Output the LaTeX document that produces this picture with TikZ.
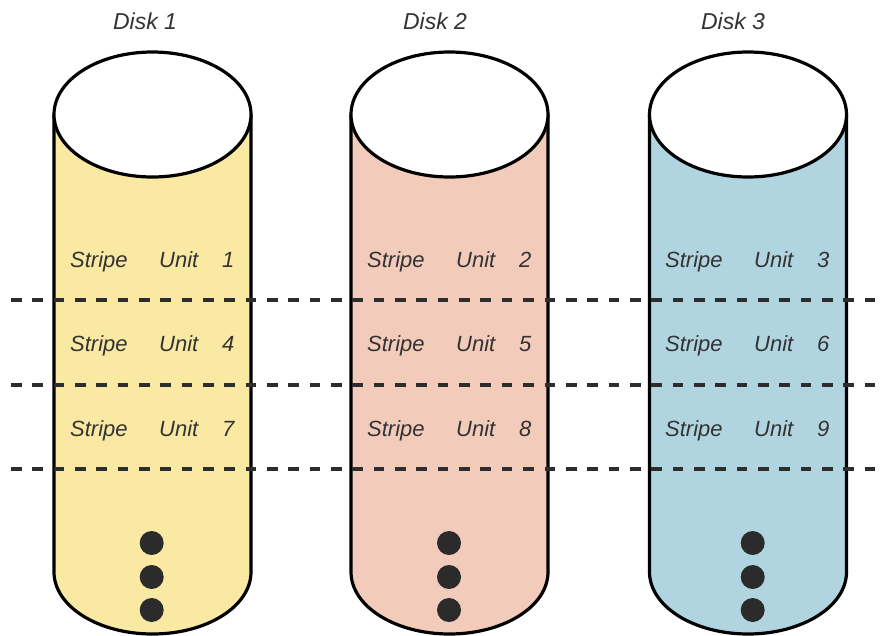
\documentclass[tikz,border=0pt]{standalone}
\usepackage{fontspec}
\setmainfont{Liberation Sans}
\definecolor{diskA}{HTML}{FAE9A2}
\definecolor{diskB}{HTML}{F2CBBB}
\definecolor{diskC}{HTML}{B1D5E0}
\definecolor{inkgray}{HTML}{333333}
\definecolor{dashgray}{HTML}{2D2D2D}
\definecolor{dotgray}{HTML}{2B2B2B}
\tikzset{
  disklabel/.style={font=\fontsize{23}{26}\selectfont\itshape, text=inkgray, inner sep=0pt, anchor=base},
  stripelabel/.style={font=\fontsize{22}{25}\selectfont\itshape, text=inkgray, inner sep=0pt, anchor=base west},
  outline/.style={draw=black, line width=3.2pt},
  sepline/.style={draw=dashgray, line width=4.6pt, dash pattern=on 10.67pt off 10.67pt},
  moredot/.style={circle, fill=dotgray, minimum size=24pt, inner sep=0pt},
}
\newcommand{\diskcyl}[2]{%
  % #1 = centre x, #2 = fill colour
  \fill[#2] (#1-98.5,-114.5) -- (#1-98.5,-572) arc[start angle=180, end angle=360, x radius=98.5, y radius=62] -- (#1+98.5,-114.5) -- cycle;
  \draw[outline] (#1-98.5,-114.5) -- (#1-98.5,-572) arc[start angle=180, end angle=360, x radius=98.5, y radius=62] -- (#1+98.5,-114.5);
  \draw[outline, fill=white] (#1,-114.5) ellipse[x radius=98.5, y radius=62.5];
}
\newcommand{\unitlabel}[2]{\makebox[89pt][l]{Stripe}\makebox[63pt][l]{Unit}#2}
\begin{document}
\begin{tikzpicture}[x=1pt, y=1pt]
\useasboundingbox (0,0) rectangle (883,-635);
\fill[white] (0,0) rectangle (883,-635);

\diskcyl{152.5}{diskA}
\diskcyl{449.5}{diskB}
\diskcyl{748}{diskC}

% disk titles
\node[disklabel] (d1) at (145,-29.3) {Disk 1};
\node[disklabel] (d2) at (435,-29.3) {Disk 2};
\node[disklabel] (d3) at (733,-29.3) {Disk 3};

% stripe unit labels
\node[stripelabel] (u1) at (70,-267.3) {\unitlabel{}{1}};
\node[stripelabel] (u2) at (367,-267.3) {\unitlabel{}{2}};
\node[stripelabel] (u3) at (665,-267.3) {\unitlabel{}{3}};
\node[stripelabel] (u4) at (70,-351.8) {\unitlabel{}{4}};
\node[stripelabel] (u5) at (367,-351.8) {\unitlabel{}{5}};
\node[stripelabel] (u6) at (665,-351.8) {\unitlabel{}{6}};
\node[stripelabel] (u7) at (70,-436.3) {\unitlabel{}{7}};
\node[stripelabel] (u8) at (367,-436.3) {\unitlabel{}{8}};
\node[stripelabel] (u9) at (665,-436.3) {\unitlabel{}{9}};

% dashed separators
\coordinate (la) at (11,-300);   \coordinate (ra) at (883,-300);
\coordinate (lb) at (11,-385);   \coordinate (rb) at (883,-385);
\coordinate (lc) at (11,-469);   \coordinate (rc) at (883,-469);
\draw[sepline] (la) -- (ra);
\draw[sepline] (lb) -- (rb);
\draw[sepline] (lc) -- (rc);

% continuation dots
\node[moredot] (a1) at (151.7,-543) {};
\node[moredot] (a2) at (151.7,-577) {};
\node[moredot] (a3) at (151.7,-610) {};
\node[moredot] (b1) at (449,-543) {};
\node[moredot] (b2) at (449,-577) {};
\node[moredot] (b3) at (449,-610) {};
\node[moredot] (c1) at (752.7,-543) {};
\node[moredot] (c2) at (752.7,-577) {};
\node[moredot] (c3) at (752.7,-610) {};
\end{tikzpicture}
\end{document}
